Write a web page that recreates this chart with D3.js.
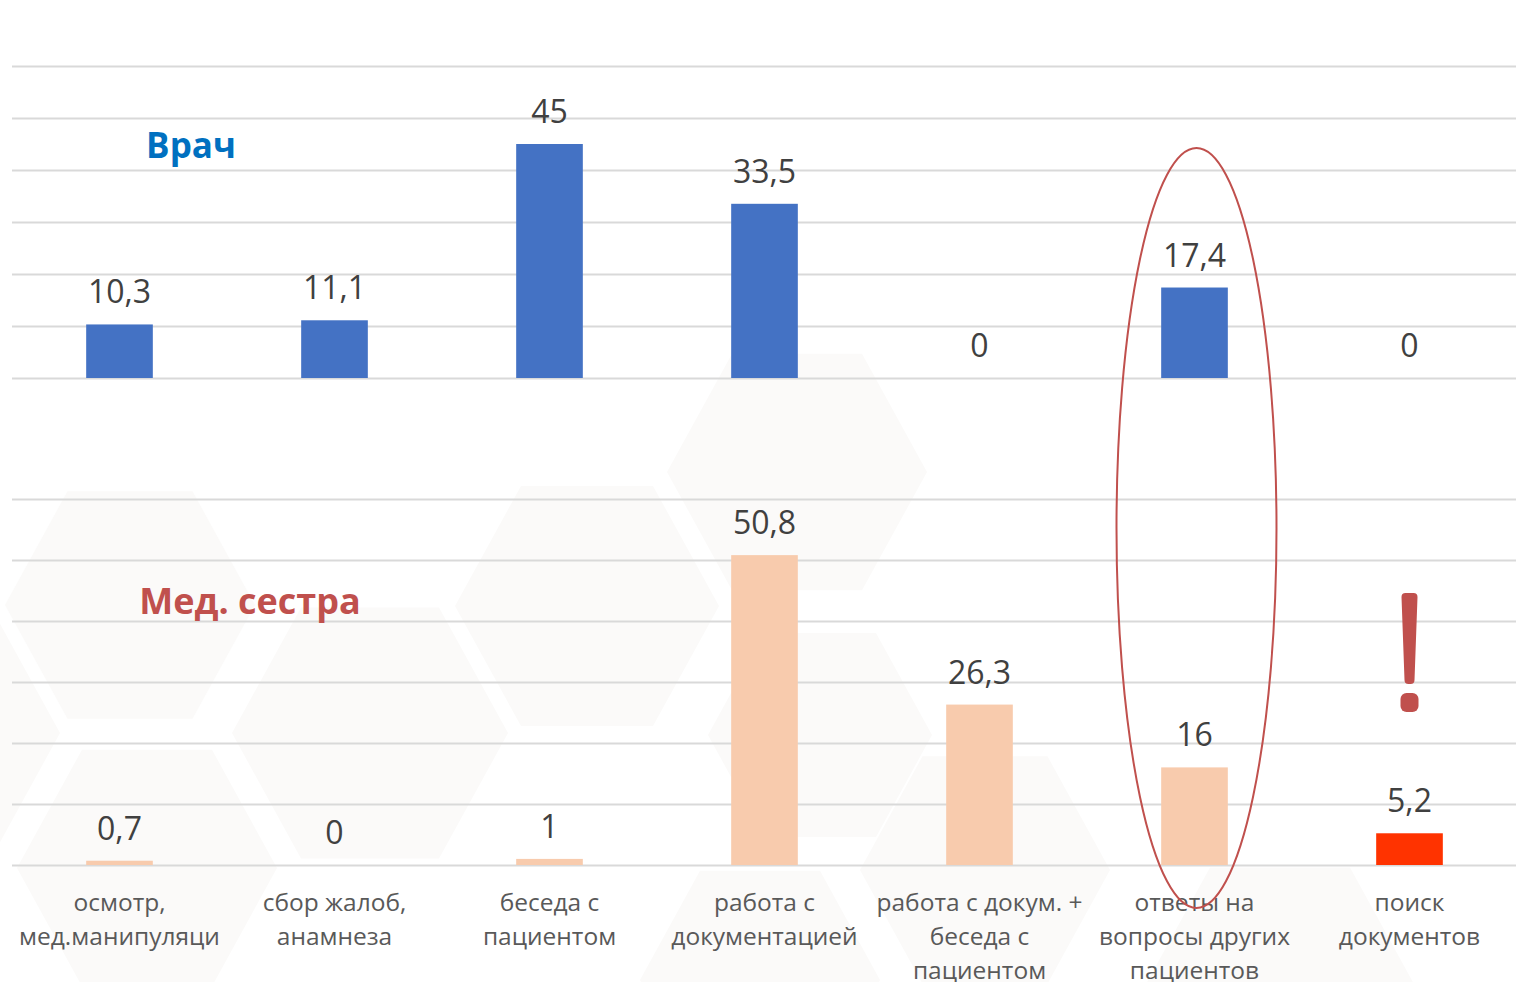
<!DOCTYPE html>
<html>
<head>
<meta charset="utf-8">
<script src="https://cdn.jsdelivr.net/npm/d3@7"></script>
<style>
  html, body { margin: 0; padding: 0; background: #fff; }
  svg { display: block; font-family: 'Open Sans', sans-serif; }
</style>
</head>
<body>
<svg id="chart"></svg>
<script>
// data
const categories = [
    ['осмотр,', 'мед.манипуляци'],
    ['сбор жалоб,', 'анамнеза'],
    ['беседа с', 'пациентом'],
    ['работа с', 'документацией'],
    ['работа с докум. +', 'беседа с', 'пациентом'],
    ['ответы на', 'вопросы других', 'пациентов'],
    ['поиск', 'документов']
];
const doctorValues = [10.3, 11.1, 45, 33.5, 0, 17.4, 0];
const nurseValues = [0.7, 0, 1, 50.8, 26.3, 16, 5.2];
const yTicks = [0, 10, 20, 30, 40, 50, 60];

const width = 1519, height = 982;
const gridColor = '#d9d9d9',
    doctorColor = '#4472c4',
    nurseColor = '#f8cbad',
    alertColor = '#ff3300',
    markColor = '#c0504d';

const svg = d3.select('#chart').attr('width', width).attr('height', height);
const fmt = d3.formatLocale({decimal: ',', thousands: ' ', grouping: [3], currency: ['', '']}).format('~g');

// faint hexagon background
const hexes = [[130, 605, 125], [370, 733, 138], [-70, 733, 130], [147, 868, 130],
    [587, 606, 132], [797, 472, 130], [820, 735, 112], [985, 870, 125], [1280, 995, 140], [760, 980, 120]];
const hexPath = function (cx, cy, r) {
    const h = r * 0.91;
    return 'M' + (cx - r) + ',' + cy + 'L' + (cx - r / 2) + ',' + (cy - h) + 'L' + (cx + r / 2) + ',' + (cy - h) +
        'L' + (cx + r) + ',' + cy + 'L' + (cx + r / 2) + ',' + (cy + h) + 'L' + (cx - r / 2) + ',' + (cy + h) + 'Z';
};
svg.append('g').selectAll('path').data(hexes).enter().append('path')
    .attr('d', function (d) { return hexPath(d[0], d[1], d[2]); })
    .attr('fill', '#fbfaf9');

const xScale = d3.scaleBand().domain(d3.range(categories.length))
    .range([12, 1517]).paddingInner(0.69).paddingOuter(0.345);
const yTop = d3.scaleLinear().domain([0, 60]).range([378, 66]);
const yBottom = d3.scaleLinear().domain([0, 60]).range([865, 499]);

function drawPanel(values, yScale, colorFn) {
    const g = svg.append('g');
    const axis = d3.axisLeft(yScale).tickValues(yTicks).tickSize(-(1516 - 12)).tickFormat('');
    g.append('g').attr('transform', 'translate(12,0)')
        .call(axis)
        .call(function (a) {
            a.select('.domain').remove();
            a.selectAll('.tick line').attr('stroke', gridColor).attr('stroke-width', 2);
        });
    g.selectAll('rect.bar').data(values).enter().append('rect')
        .attr('class', 'bar')
        .attr('x', function (d, i) { return xScale(i); })
        .attr('y', function (d) { return yScale(d); })
        .attr('width', xScale.bandwidth())
        .attr('height', function (d) { return yScale(0) - yScale(d); })
        .attr('fill', colorFn);
    g.selectAll('text.val').data(values).enter().append('text')
        .attr('class', 'val')
        .attr('x', function (d, i) { return xScale(i) + xScale.bandwidth() / 2; })
        .attr('y', function (d) { return yScale(d) - 21; })
        .attr('text-anchor', 'middle')
        .attr('font-size', 32)
        .attr('fill', '#404040')
        .text(function (d) { return fmt(d); });
}

drawPanel(doctorValues, yTop, function () { return doctorColor; });
drawPanel(nurseValues, yBottom, function (d, i) { return i === categories.length - 1 ? alertColor : nurseColor; });

// category labels
const labels = svg.append('g').selectAll('text').data(categories).enter().append('text')
    .attr('text-anchor', 'middle')
    .attr('font-size', 24.5)
    .attr('fill', '#595959');
labels.each(function (lines, i) {
    const t = d3.select(this);
    lines.forEach(function (line, k) {
        t.append('tspan')
            .attr('x', xScale(i) + xScale.bandwidth() / 2)
            .attr('y', 911 + k * 34)
            .text(line);
    });
});

// panel titles
svg.append('text').attr('x', 191).attr('y', 158).attr('text-anchor', 'middle')
    .attr('font-size', 35).attr('font-weight', 'bold').attr('fill', '#0070c0').text('Врач');
svg.append('text').attr('x', 250).attr('y', 614).attr('text-anchor', 'middle')
    .attr('font-size', 36).attr('font-weight', 'bold').attr('fill', markColor).text('Мед. сестра');

// highlight ellipse around "ответы на вопросы"
const cx6 = xScale(5) + xScale.bandwidth() / 2;
svg.append('ellipse')
    .attr('cx', cx6 + 2).attr('cy', 528).attr('rx', 80).attr('ry', 380)
    .attr('fill', 'none').attr('stroke', markColor).attr('stroke-width', 2);

// exclamation mark
const cx7 = xScale(6) + xScale.bandwidth() / 2;
svg.append('path')
    .attr('d', 'M' + (cx7 - 8) + ',597 Q' + (cx7 - 8) + ',593 ' + (cx7 - 4) + ',593 L' + (cx7 + 4) + ',593 Q' + (cx7 + 8) + ',593 ' + (cx7 + 8) + ',597' +
        ' L' + (cx7 + 5) + ',680 Q' + (cx7 + 5) + ',684 ' + (cx7 + 1) + ',684 L' + (cx7 - 1) + ',684 Q' + (cx7 - 5) + ',684 ' + (cx7 - 5) + ',680 Z')
    .attr('fill', markColor);
svg.append('rect')
    .attr('x', cx7 - 9).attr('y', 693).attr('width', 18).attr('height', 19).attr('rx', 6)
    .attr('fill', markColor);
</script>
</body>
</html>
